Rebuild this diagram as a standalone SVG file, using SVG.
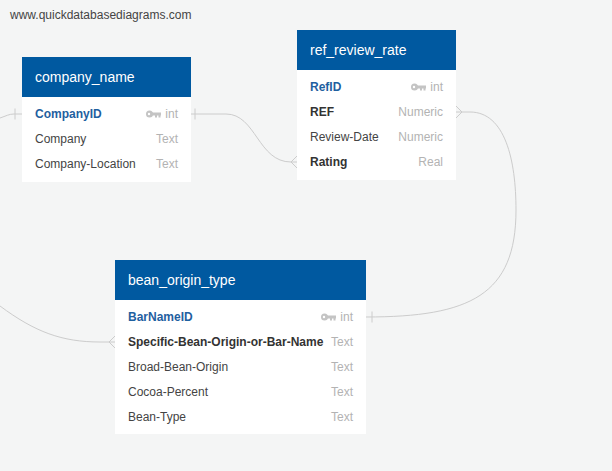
<svg xmlns="http://www.w3.org/2000/svg" xmlns:xlink="http://www.w3.org/1999/xlink" width="612" height="471" viewBox="0 0 612 471">
<style>
text{font-family:"Liberation Sans",Arial,sans-serif}
.title{font-size:14px;fill:#ffffff}
.f{font-size:12px;fill:#444444}
.fk{font-size:12px;fill:#333333;font-weight:bold}
.pk{font-size:12px;fill:#1f60a0;font-weight:bold}
.t{font-size:12px;fill:#b3b3b3;text-anchor:end}
.hdr{fill:#0059a0}
.body{fill:#ffffff}
.c{fill:none;stroke:#cccccc;stroke-width:1}
.wm{font-size:12px;fill:#444444}
</style>
<defs>
<g id="key" fill="#c4c4c4">
<circle cx="3.5" cy="0" r="3.5"/>
<rect x="5" y="-1.5" width="10" height="3"/>
<rect x="9" y="1" width="2" height="2.5"/>
<rect x="12.5" y="1" width="2" height="2.5"/>
<circle cx="3" cy="0" r="1.2" fill="#ffffff"/>
</g>
</defs>
<rect width="612" height="471" fill="#f4f5f5"/>
<text class="wm" x="10" y="19">www.quickdatabasediagrams.com</text>

<g id="connectors">
<!-- company_name.CompanyID left, off-screen -->
<path class="c" d="M0,118 C6,116 9,114 14,114 L22,114"/>
<line class="c" x1="15" y1="108.5" x2="15" y2="119.5"/>
<!-- company_name.CompanyID -> ref_review_rate.Rating -->
<path class="c" d="M191,114 L226,114 C256,114 258,162 291,162 L297,162"/>
<line class="c" x1="195" y1="108.5" x2="195" y2="119.5"/>
<path class="c" d="M297,156 L291,162 L297,168"/>
<!-- off-screen -> bean_origin_type.Specific -->
<path class="c" d="M0,306 C35,332 62,342 100,342 L115,342"/>
<path class="c" d="M115,336 L109,342 L115,348"/>
<!-- ref_review_rate.REF -> bean_origin_type.BarNameID -->
<path class="c" d="M456,112 L470,112 C505,112 516,160 516,210 C516,295 470,317 366,317"/>
<path class="c" d="M456,106 L462,112 L456,118"/>
<line class="c" x1="372" y1="311.5" x2="372" y2="322.5"/>
</g>

<g id="company_name">
<rect class="body" x="22" y="57" width="169" height="125"/>
<rect class="hdr" x="22" y="57" width="169" height="40"/>
<text class="title" x="35" y="82">company_name</text>
<text class="pk" x="35" y="118.3">CompanyID</text>
<use xlink:href="#key" x="146" y="114"/>
<text class="t" x="178" y="118.3">int</text>
<text class="f" x="35" y="143.3">Company</text>
<text class="t" x="178" y="143.3">Text</text>
<text class="f" x="35" y="168.3">Company-Location</text>
<text class="t" x="178" y="168.3">Text</text>
</g>

<g id="ref_review_rate">
<rect class="body" x="297" y="30" width="159" height="150"/>
<rect class="hdr" x="297" y="30" width="159" height="40"/>
<text class="title" x="310" y="55">ref_review_rate</text>
<text class="pk" x="310" y="91.3">RefID</text>
<use xlink:href="#key" x="411" y="87"/>
<text class="t" x="443" y="91.3">int</text>
<text class="fk" x="310" y="116.3">REF</text>
<text class="t" x="443" y="116.3">Numeric</text>
<text class="f" x="310" y="141.3">Review-Date</text>
<text class="t" x="443" y="141.3">Numeric</text>
<text class="fk" x="310" y="166.3">Rating</text>
<text class="t" x="443" y="166.3">Real</text>
</g>

<g id="bean_origin_type">
<rect class="body" x="115" y="260" width="251" height="174"/>
<rect class="hdr" x="115" y="260" width="251" height="40"/>
<text class="title" x="128" y="285">bean_origin_type</text>
<text class="pk" x="128" y="321.3">BarNameID</text>
<use xlink:href="#key" x="321" y="317"/>
<text class="t" x="353" y="321.3">int</text>
<text class="fk" x="128" y="346.3">Specific-Bean-Origin-or-Bar-Name</text>
<text class="t" x="353" y="346.3">Text</text>
<text class="f" x="128" y="371.3">Broad-Bean-Origin</text>
<text class="t" x="353" y="371.3">Text</text>
<text class="f" x="128" y="396.3">Cocoa-Percent</text>
<text class="t" x="353" y="396.3">Text</text>
<text class="f" x="128" y="421.3">Bean-Type</text>
<text class="t" x="353" y="421.3">Text</text>
</g>
</svg>
